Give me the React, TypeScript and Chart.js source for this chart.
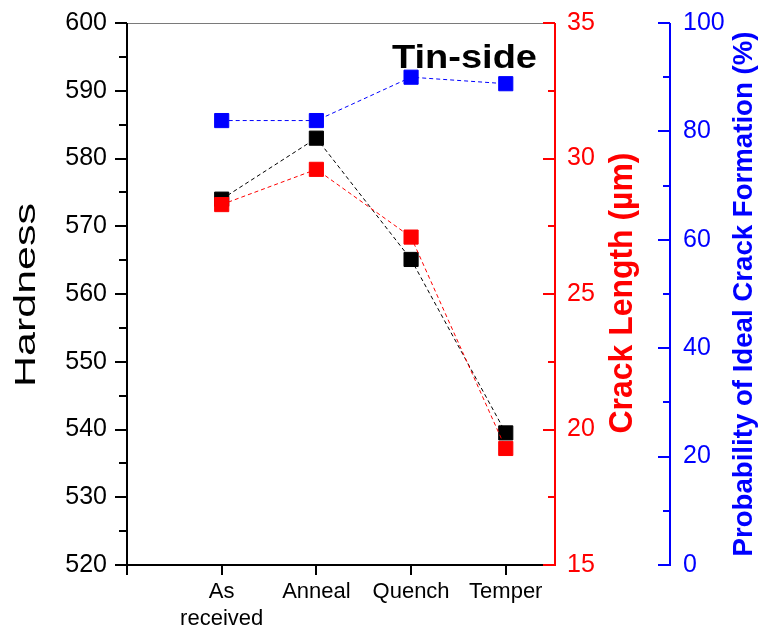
import { useEffect, useRef } from 'react';
import { Chart, registerables } from 'chart.js';

Chart.register(...registerables);

// ---- data ----
const categories = ['As received', 'Anneal', 'Quench', 'Temper'];
const hardness = [574.0, 583.0, 565.1, 539.5];
const crackLength = [28.3, 29.6, 27.1, 19.3];
const idealProbability = [82.0, 82.0, 90.0, 88.8];
const xTickValues = [0, 1, 2, 3, 4];
const hardnessRange = [520, 600];
const crackRange = [15, 35];
const probRange = [0, 100];

const FONT = '"Liberation Sans", Arial, Helvetica, sans-serif';

function seg(ctx: CanvasRenderingContext2D, x1: number, y1: number, x2: number, y2: number, color: string, w: number) {
  ctx.beginPath();
  ctx.strokeStyle = color;
  ctx.lineWidth = w;
  ctx.moveTo(x1, y1);
  ctx.lineTo(x2, y2);
  ctx.stroke();
}

function fitText(
  ctx: CanvasRenderingContext2D,
  text: string,
  x: number,
  y: number,
  font: string,
  color: string,
  targetLen: number,
  vertical: boolean,
  align: CanvasTextAlign
) {
  ctx.save();
  ctx.font = font;
  ctx.fillStyle = color;
  const w = ctx.measureText(text).width;
  ctx.translate(x, y);
  if (vertical) ctx.rotate(-Math.PI / 2);
  ctx.scale(targetLen / w, 1);
  ctx.textAlign = align;
  ctx.textBaseline = 'alphabetic';
  ctx.fillText(text, 0, 0);
  ctx.restore();
}

const decorPlugin = {
  id: 'decor',
  afterDraw(chart: any) {
    const { ctx, chartArea: ca, scales } = chart;
    const xs = scales.x, y = scales.y, y1 = scales.y1, y2 = scales.y2;
    ctx.save();
    ctx.lineCap = 'butt';
    // top frame
    seg(ctx, ca.left, ca.top + 0.5, ca.right, ca.top + 0.5, '#7a7a7a', 1);
    // left axis
    seg(ctx, ca.left, ca.top, ca.left, ca.bottom + 1, '#000', 2);
    for (let v = hardnessRange[0]; v <= hardnessRange[1]; v += 5) {
      const py = Math.round(y.getPixelForValue(v));
      const len = v % 10 === 0 ? 12 : 8;
      seg(ctx, ca.left - len, py, ca.left, py, '#000', 2);
    }
    // bottom axis
    seg(ctx, ca.left, ca.bottom, ca.right, ca.bottom, '#000', 2);
    for (const v of xTickValues) {
      const px = Math.round(xs.getPixelForValue(v));
      seg(ctx, px, ca.bottom, px, ca.bottom + 10, '#000', 2);
    }
    // red axis
    seg(ctx, ca.right, ca.top, ca.right, ca.bottom + 1, '#ff0000', 2);
    for (let v = crackRange[0]; v <= crackRange[1]; v += 2.5) {
      const py = Math.round(y1.getPixelForValue(v));
      const len = v % 5 === 0 ? 12 : 7;
      seg(ctx, ca.right - len, py, ca.right, py, '#ff0000', 2);
    }
    // blue axis
    const bx = y2.left;
    seg(ctx, bx, ca.top, bx, ca.bottom + 1, '#0000ff', 2);
    for (let v = probRange[0]; v <= probRange[1]; v += 10) {
      const py = Math.round(y2.getPixelForValue(v));
      const len = v % 20 === 0 ? 12 : 7;
      seg(ctx, bx - len, py, bx, py, '#0000ff', 2);
    }
    // titles
    const cy = (ca.top + ca.bottom) / 2;
    fitText(ctx, 'Hardness', y.left + 35, cy + 1, `29px ${FONT}`, '#000', 184, true, 'center');
    fitText(ctx, 'Crack Length (\u00b5m)', y1.left + 77, cy - 1, `bold 33px ${FONT}`, '#ff0000', 281, true, 'center');
    fitText(ctx, 'Probability of Ideal Crack Formation (%)', y2.left + 82, cy, `bold 28px ${FONT}`, '#0000ff', 525, true, 'center');
    fitText(ctx, 'Tin-side', 392, 68, `bold 34px ${FONT}`, '#000', 145, false, 'left');
    ctx.restore();
  },
};

export default function App() {
  const ref = useRef<HTMLCanvasElement | null>(null);

  useEffect(() => {
    if (!ref.current) return;
    const pts = (vals: number[]) => vals.map((v, i) => ({ x: i + 1, y: v }));
    const ds = (label: string, vals: number[], color: string, axis: string) => ({
      label,
      data: pts(vals),
      yAxisID: axis,
      borderColor: color,
      backgroundColor: color,
      pointBackgroundColor: color,
      pointBorderColor: color,
      borderWidth: 1,
      borderDash: [4, 3],
      pointStyle: 'rect',
      pointRadius: 10,
      pointBorderWidth: 1,
      pointHoverRadius: 10,
      tension: 0,
      fill: false,
      clip: false,
    });

    const tickFont = { family: FONT, size: 25 };
    const noPad = (s: any) => {
      s.paddingTop = 0;
      s.paddingBottom = 0;
      s.paddingLeft = 0;
      s.paddingRight = 0;
    };
    const grid = { display: false, drawTicks: false, tickLength: 0 };

    const chart = new Chart(ref.current, {
      type: 'line',
      data: {
        datasets: [
          ds('Crack Length', crackLength, '#ff0000', 'y1'),
          ds('Hardness', hardness, '#000000', 'y'),
          ds('Probability', idealProbability, '#0000ff', 'y2'),
        ] as any,
      },
      options: {
        animation: false,
        responsive: false,
        events: [],
        layout: { padding: { top: 23, left: 0, right: 0, bottom: 0 } },
        plugins: { legend: { display: false }, tooltip: { enabled: false } },
        scales: {
          x: {
            type: 'linear',
            position: 'bottom',
            min: 0,
            max: 4.52,
            grid,
            border: { display: false },
            afterBuildTicks: (s: any) => {
              s.ticks = xTickValues.map((v) => ({ value: v }));
            },
            afterFit: (s: any) => {
              s.height = 65;
              noPad(s);
            },
            ticks: {
              autoSkip: false,
              maxRotation: 0,
              minRotation: 0,
              padding: 14,
              color: '#000',
              font: { family: FONT, size: 22, lineHeight: 1.2 },
              callback: (v: any) => {
                const c = categories[Number(v) - 1];
                if (!c) return '';
                return c.includes(' ') ? c.split(' ') : c;
              },
            },
          },
          y: {
            type: 'linear',
            position: 'left',
            min: hardnessRange[0],
            max: hardnessRange[1],
            grid,
            border: { display: false },
            afterFit: (s: any) => {
              s.width = 127;
              noPad(s);
            },
            ticks: { stepSize: 10, padding: 20, color: '#000', font: tickFont },
          },
          y1: {
            type: 'linear',
            position: 'right',
            min: crackRange[0],
            max: crackRange[1],
            grid,
            border: { display: false },
            afterFit: (s: any) => {
              s.width = 115;
              noPad(s);
            },
            ticks: { stepSize: 5, padding: 12, color: '#ff0000', font: tickFont },
          },
          y2: {
            type: 'linear',
            position: 'right',
            min: probRange[0],
            max: probRange[1],
            grid,
            border: { display: false },
            afterFit: (s: any) => {
              s.width = 93;
              noPad(s);
            },
            ticks: { stepSize: 20, padding: 13, color: '#0000ff', font: tickFont },
          },
        },
      } as any,
      plugins: [decorPlugin],
    });
    return () => chart.destroy();
  }, []);

  return (
    <div style={{ position: 'fixed', left: 0, top: 0, width: 763, height: 630, background: '#fff' }}>
      <canvas ref={ref} width={763} height={630} style={{ display: 'block' }} />
    </div>
  );
}
